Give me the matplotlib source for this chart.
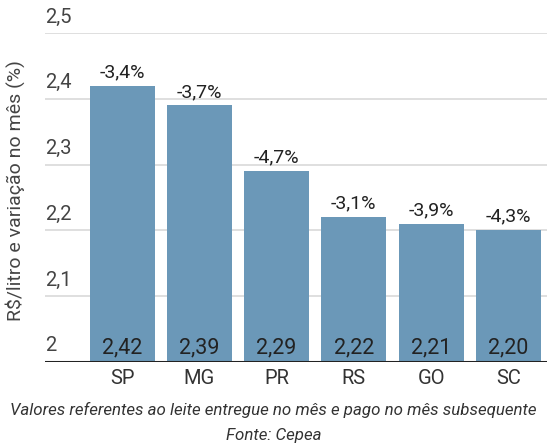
import matplotlib.pyplot as plt
import matplotlib.transforms as mtransforms

plt.rcParams['font.family'] = ['Roboto', 'DejaVu Sans']

estados = ["SP", "MG", "PR", "RS", "GO", "SC"]
precos = [2.42, 2.39, 2.29, 2.22, 2.21, 2.20]
variacao = ["-3,4%", "-3,7%", "-4,7%", "-3,1%", "-3,9%", "-4,3%"]
yticks = [2.0, 2.1, 2.2, 2.3, 2.4, 2.5]
ylabels = ["2", "2,1", "2,2", "2,3", "2,4", "2,5"]

cor_barra = "#6b98b8"

fig = plt.figure(figsize=(5.47, 4.48), dpi=100)
ax = fig.add_axes([0.082, 0.192, 0.918, 0.734])

x = range(len(estados))
ax.bar(x, precos, width=0.84, color=cor_barra, zorder=2)

ax.set_ylim(2.0, 2.5)
ax.set_xlim(-1.0, 5.5)

# grade horizontal e rótulos do eixo y acima das linhas
trans = mtransforms.blended_transform_factory(ax.transAxes, ax.transData)
for v, lab in zip(yticks, ylabels):
    if v > 2.0:
        ax.axhline(v, color="#d9d9d9", lw=1.2, zorder=1)
    ax.text(0.0, v + 0.01, lab, transform=trans, ha="left", va="bottom",
            fontsize=14.5, color="#444444")

ax.axhline(2.0, color="#222222", lw=2.2, zorder=3)

for i, (p, var) in enumerate(zip(precos, variacao)):
    ax.text(i, 2.006, f"{p:.2f}".replace(".", ","), ha="center", va="bottom",
            fontsize=15.5, color="#222222", zorder=4)
    ax.text(i, p + 0.007, var, ha="center", va="bottom",
            fontsize=14, color="#222222")

ax.set_xticks(list(x))
ax.set_xticklabels(estados, fontsize=14.5, color="#333333")
ax.set_yticks([])
ax.tick_params(axis="x", length=0, pad=5)
for s in ax.spines.values():
    s.set_visible(False)

fig.text(0.027, 0.575, "R$/litro e variação no mês (%)", rotation=90,
         ha="center", va="center", fontsize=14, color="#444444")
fig.text(0.5, 0.085, "Valores referentes ao leite entregue no mês e pago no mês subsequente",
         ha="center", va="center", fontsize=12.2, style="italic", color="#333333")
fig.text(0.5, 0.028, "Fonte: Cepea", ha="center", va="center",
         fontsize=12.2, style="italic", color="#333333")

fig.savefig("out.png", dpi=100)
